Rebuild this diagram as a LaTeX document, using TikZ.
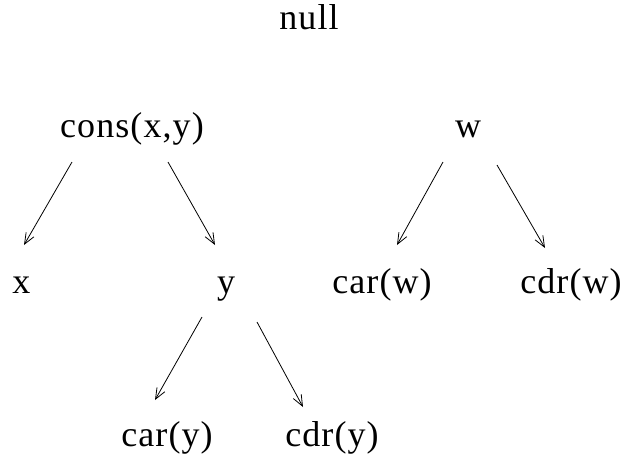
\documentclass[tikz,border=0pt]{standalone}
\usepackage{fontspec}
\setmainfont{Liberation Serif}[LetterSpace=3]
\usetikzlibrary{arrows.meta}

\tikzset{
  term/.style={inner sep=0pt, anchor=base, font=\fontsize{36}{40}\selectfont},
  link/.style={line width=0.8pt, -{Straight Barb[length=11pt,width=9pt,line width=0.8pt]}}
}

\begin{document}
\begin{tikzpicture}[x=1pt,y=1pt,yscale=-1,xscale=1]
\useasboundingbox (0,0) rectangle (631,461);

%terms
\node [term] (null) at (309,29) {null};
\node [term] (cons) at (132,137) {cons(x,y)};
\node [term] (w) at (468,137) {w};
\node [term] (x) at (21.5,293) {x};
\node [term] (y) at (226,293) {y};
\node [term] (carw) at (382,293) {car(w)};
\node [term] (cdrw) at (571,293) {cdr(w)};
\node [term] (cary) at (167,446) {car(y)};
\node [term] (cdry) at (332,446) {cdr(y)};

%links
\draw [link] ([xshift=-60pt,yshift=25pt]cons.base) -- ([xshift=2.5pt,yshift=-48pt]x.base);
\draw [link] ([xshift=36pt,yshift=25pt]cons.base) -- ([xshift=-11pt,yshift=-48pt]y.base);
\draw [link] ([xshift=-25pt,yshift=25pt]w.base) -- ([xshift=15pt,yshift=-48pt]carw.base);
\draw [link] ([xshift=29pt,yshift=28pt]w.base) -- ([xshift=-26pt,yshift=-45pt]cdrw.base);
\draw [link] ([xshift=-24pt,yshift=24pt]y.base) -- ([xshift=-12pt,yshift=-46pt]cary.base);
\draw [link] ([xshift=31pt,yshift=29pt]y.base) -- ([xshift=-29pt,yshift=-39pt]cdry.base);

\end{tikzpicture}
\end{document}
